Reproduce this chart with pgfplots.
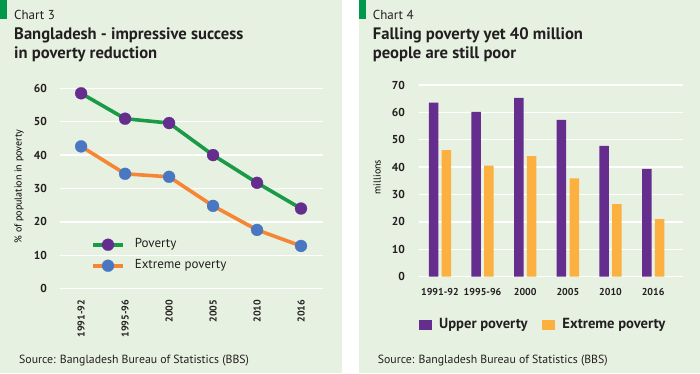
\documentclass[border=0pt]{standalone}
\usepackage{fontspec}
\setmainfont{PT Sans}
\usepackage{pgfplots}
\pgfplotsset{compat=1.18}
\definecolor{bg}{HTML}{E6F1E1}
\definecolor{markgreen}{HTML}{00984A}
\definecolor{txt}{HTML}{231F20}
\definecolor{lgreen}{HTML}{1A9A46}
\definecolor{lpurple}{HTML}{652D8E}
\definecolor{lorange}{HTML}{F58634}
\definecolor{lblue}{HTML}{4A77C1}
\definecolor{bpurple}{HTML}{652D8E}
\definecolor{byellow}{HTML}{FBB040}
\begin{document}
\begin{tikzpicture}[x=1pt,y=1pt]
\useasboundingbox (0,0) rectangle (700,373);
\fill[white] (0,0) rectangle (700,373);
\fill[bg] (0,0) rectangle (342,373);
\fill[bg] (359,0) rectangle (700,373);
\fill[markgreen] (0,354) rectangle (7,373);
\fill[markgreen] (359,354) rectangle (366,373);
% titles
\node[anchor=base west, inner sep=0pt, text=txt, font=\fontsize{13}{15}\selectfont] at (14,353) {Chart 3};
\node[anchor=base west, inner sep=0pt, text=txt, font=\bfseries\fontsize{16.6}{18}\selectfont] at (14,333.5) {Bangladesh - impressive success};
\node[anchor=base west, inner sep=0pt, text=txt, font=\bfseries\fontsize{16.6}{18}\selectfont] at (14,314.5) {in poverty reduction};
\node[anchor=base west, inner sep=0pt, text=txt, font=\fontsize{13}{15}\selectfont] at (372.7,353) {Chart 4};
\node[anchor=base west, inner sep=0pt, text=txt, font=\bfseries\fontsize{16.6}{18}\selectfont] at (372.7,333.5) {Falling poverty yet 40 million};
\node[anchor=base west, inner sep=0pt, text=txt, font=\bfseries\fontsize{16.6}{18}\selectfont] at (372.7,314.5) {people are still poor};
\node[anchor=base west, inner sep=0pt, text=txt, font=\fontsize{11.8}{13}\selectfont] at (19,10) {Source: Bangladesh Bureau of Statistics (BBS)};
\node[anchor=base west, inner sep=0pt, text=txt, font=\fontsize{11.8}{13}\selectfont] at (377.7,10) {Source: Bangladesh Bureau of Statistics (BBS)};

% left chart
\begin{axis}[
  at={(60pt,84.3pt)}, anchor=south west,
  width=263pt, height=200.4pt, scale only axis,
  xmin=-0.48, xmax=5.5, ymin=0, ymax=60,
  clip=false,
  axis line style={draw=none}, major tick length=0pt,
  ytick={0,10,...,60}, ymajorgrids,
  grid style={white, line width=1.4pt},
  xtick={0,...,5},
  xticklabels={1991-92,1995-96,2000,2005,2010,2016},
  /pgf/number format/assume math mode=true,
  yticklabel style={font=\bfseries\fontsize{11.5}{13}\selectfont, text=txt, inner sep=0pt, anchor=east, xshift=-13pt},
  xticklabel style={font=\bfseries\fontsize{10}{12}\selectfont, text=txt, inner sep=0pt, yshift=-11pt, rotate=90, anchor=east},
  ylabel={\% of population in poverty},
  ylabel style={font=\fontsize{12.2}{14}\selectfont, text=txt},
  every axis y label/.style={at={(axis description cs:-0.156,0.51)}, rotate=90, anchor=center},
  legend image code/.code={\draw[mark repeat=2,mark phase=2,#1] plot coordinates {(0pt,0pt)(15pt,0pt)(30pt,0pt)};},
  legend style={at={(0.118,0.167)}, anchor=west, draw=none, fill=none, inner sep=0pt,
    font=\fontsize{13}{15}\selectfont, text=txt, row sep=9pt,
    nodes={inner sep=0pt, text height=9pt, text depth=3pt},
    /tikz/every odd column/.append style={column sep=10pt}},
  legend cell align=left,
]
\addplot[lgreen, line width=3.6pt, mark=*, mark size=6pt, mark options={solid, fill=lpurple, draw=lpurple, line width=0.2pt}]
  coordinates {(0,58.5) (1,50.9) (2,49.6) (3,40.0) (4,31.7) (5,24.0)};
\addlegendentry{Poverty}
\addplot[lorange, line width=3.6pt, mark=*, mark size=6pt, mark options={solid, fill=lblue, draw=lblue, line width=0.2pt}]
  coordinates {(0,42.6) (1,34.4) (2,33.5) (3,24.8) (4,17.6) (5,12.8)};
\addlegendentry{Extreme poverty}
\end{axis}

% right chart
\begin{axis}[
  at={(419pt,96.3pt)}, anchor=south west,
  width=264pt, height=191.7pt, scale only axis,
  xmin=-0.49, xmax=5.7, ymin=0, ymax=70,
  clip=false,
  axis line style={draw=none}, major tick length=0pt,
  ytick={0,10,...,70}, ymajorgrids,
  grid style={white, line width=1.4pt},
  xtick={0,...,5},
  xticklabels={1991-92,1995-96,2000,2005,2010,2016},
  /pgf/number format/assume math mode=true,
  yticklabel style={font=\bfseries\fontsize{11.5}{13}\selectfont, text=txt, inner sep=0pt, anchor=east, xshift=-14pt},
  xticklabel style={font=\bfseries\fontsize{10}{12}\selectfont, text=txt, inner sep=0pt, anchor=north, yshift=-11pt},
  ylabel={millions},
  ylabel style={font=\fontsize{11.8}{13}\selectfont, text=txt},
  every axis y label/.style={at={(axis description cs:-0.159,0.52)}, rotate=90, anchor=center},
  legend image code/.code={\fill[#1] (0pt,-5pt) rectangle (13pt,5pt);},
  legend columns=2,
  legend style={at={(0,-0.252)}, anchor=west, draw=none, fill=none, inner sep=0pt,
    font=\bfseries\fontsize{14.6}{16}\selectfont, text=txt,
    nodes={inner sep=0pt, text height=10pt, text depth=3pt},
    /tikz/every odd column/.append style={column sep=7pt},
    /tikz/every even column/.append style={column sep=15pt}},
]
\addplot[ybar, bar width=9.5pt, bar shift=-6.4pt, fill=bpurple, draw=none]
  coordinates {(0,63.6) (1,60.2) (2,65.3) (3,57.3) (4,47.8) (5,39.4)};
\addlegendentry{Upper poverty}
\addplot[ybar, bar width=9.5pt, bar shift=6.4pt, fill=byellow, draw=none]
  coordinates {(0,46.2) (1,40.6) (2,44.0) (3,35.9) (4,26.5) (5,21.0)};
\addlegendentry{Extreme poverty}
\end{axis}
\end{tikzpicture}
\end{document}
